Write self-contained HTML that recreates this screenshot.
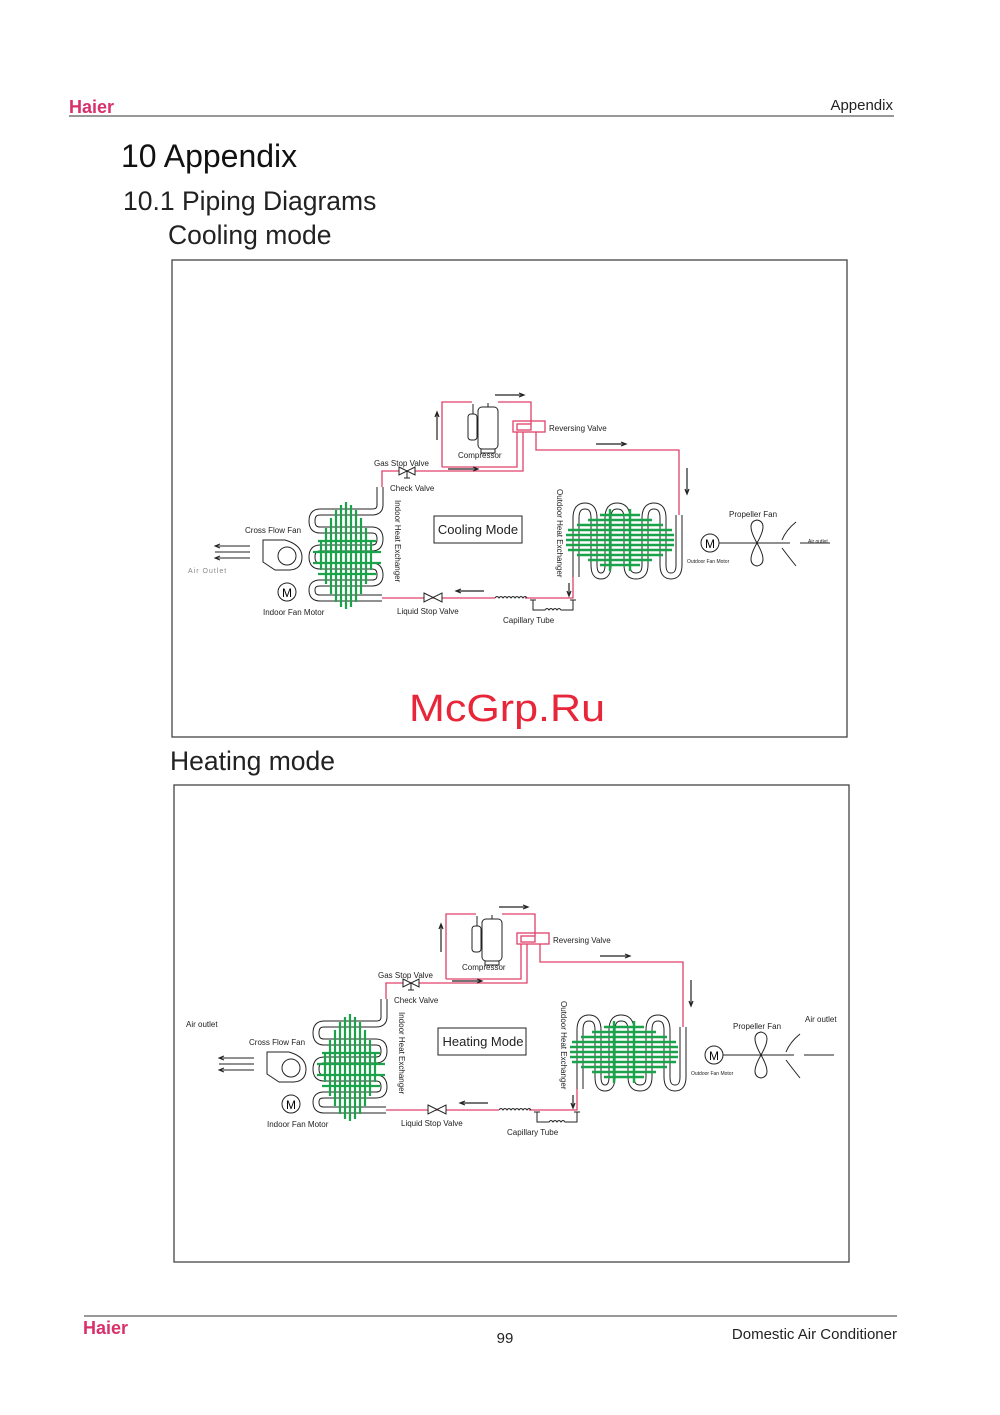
<!DOCTYPE html>
<html><head><meta charset="utf-8"><style>
html,body{margin:0;padding:0;background:#fff}
svg{display:block}
text{font-family:"Liberation Sans",sans-serif}
</style></head><body>
<svg width="1000" height="1415" viewBox="0 0 1000 1415" xmlns="http://www.w3.org/2000/svg">
<defs>
<g id="diag">
  <g fill="none" stroke="#e0406a" stroke-width="1.3">
    <path d="M442,467 V402 H472"/>
    <path d="M498,402 H531 V424"/>
    <path d="M442,467 H517 V432"/>
    <path d="M382,487 V471 H523 V432"/>
    <path d="M536,432 V450 H679 V515"/>
    <path d="M382,598 H495"/>
    <path d="M525,598 H573 V577"/>
    <rect x="513" y="421" width="32" height="11"/>
    <rect x="517" y="424" width="14" height="6"/>
  </g>
  <g fill="none" stroke="#222" stroke-width="1">
    <path d="M495,598 q2,-3 4,0 q2,-3 4,0 q2,-3 4,0 q2,-3 4,0 q2,-3 4,0 q2,-3 4,0 q2,-3 4,0 q2,-3 4,0"/>
    <path d="M533,600 V610 H545 q2,-3 4,0 q2,-3 4,0 q2,-3 4,0 q2,-3 4,0 H573 V600"/>
    <path d="M530,600 h6 M570,600 h6"/>
  </g>
  <g fill="#fff" stroke="#222" stroke-width="1">
    <rect x="478" y="407" width="20" height="42" rx="4"/>
    <rect x="468" y="414" width="9" height="26" rx="3"/>
    <rect x="481" y="449" width="14" height="4"/>
    <path d="M473,414 V404 M488,407 V403"/>
  </g>
  <g stroke="#222" stroke-width="1.2" fill="none">
    <path d="M495,395 H524 M519,393 L524,395 L519,397"/>
    <path d="M437,440 V412 M435,417 L437,412 L439,417"/>
    <path d="M448,469 H478 M473,467 L478,469 L473,471"/>
    <path d="M596,444 H626 M621,442 L626,444 L621,446"/>
    <path d="M687,468 V494 M685,489 L687,494 L689,489"/>
    <path d="M484,591 H456 M461,589 L456,591 L461,593"/>
    <path d="M569,583 V596 M567,591 L569,596 L571,591"/>
  </g>
  <g stroke="#222" stroke-width="1" fill="#fff">
    <path d="M399,467 L415,475 V467 L399,475 Z"/>
    <path d="M407,471 V478 M404,478 h6"/>
    <path d="M424,593 L442,602 V593 L424,602 Z"/>
  </g>
  <g fill="none" stroke="#222" stroke-width="7"><path id="ihx" d="M380,487 V505 Q380,512 372,512 H320 Q312,512 312,521 Q312,530 320,530 H372 Q380,530 380,539 Q380,548 372,548 H320 Q312,548 312,557 Q312,566 320,566 H372 Q380,566 380,575 Q380,583 372,583 H320 Q312,583 312,590 Q312,598 320,598 H382"/></g>
  <use href="#ihx" stroke="#fff" stroke-width="5" fill="none"/>
  <g stroke="#1aa34a" stroke-width="2.2">
    <path d="M331,518 V594 M336,510 V602 M341,505 V607 M346,502 V609 M351,505 V607 M356,510 V602 M361,518 V594 M326,528 V584 M366,528 V584 M321,540 V570 M371,540 V570"/>
    <path d="M318,541 H376 M313,552 H381 M313,563 H381 M318,574 H376"/>
  </g>
  <g fill="none" stroke="#222" stroke-width="7"><path id="ohx" d="M576,577 V518 Q576,506 585,506 Q594,506 594,518 V565 Q594,576 601,576 Q608,576 608,565 V518 Q608,506 617,506 Q627,506 627,518 V565 Q627,576 636,576 Q645,576 645,565 V518 Q645,506 654,506 Q663,506 663,518 V565 Q663,576 671,576 Q679,576 679,565 V515"/></g>
  <use href="#ohx" stroke="#fff" stroke-width="5" fill="none"/>
  <g stroke="#1aa34a" stroke-width="2.4">
    <path d="M600,515 H640 M588,520 H652 M577,525 H663 M568,530 H672 M566,535 H674 M566,540 H674 M566,545 H674 M568,550 H672 M577,555 H663 M588,560 H652 M600,565 H640"/>
    <path d="M610,509 V571 M630,509 V571"/>
  </g>
  <g fill="none" stroke="#222" stroke-width="1">
    <path d="M263,540 H285 Q302,545 302,557 Q302,569 290,570 H275 L263,562 Z"/>
    <circle cx="287" cy="556" r="9"/>
    <circle cx="287" cy="592" r="9"/>
    <path d="M215,546 H250 M215,552 H250 M215,558 H250 M220,544 L215,546 L220,548 M220,556 L215,558 L220,560"/>
  </g>
  <text x="287" y="597" font-size="12" text-anchor="middle" font-family="Liberation Serif">M</text>
  <g fill="none" stroke="#222" stroke-width="1">
    <circle cx="710" cy="543" r="9"/>
    <path d="M719,543 H790"/>
    <path d="M757,543 Q745,522 757,520 Q769,522 757,543 Q745,564 757,566 Q769,564 757,543"/>
    <path d="M796,522 Q786,530 782,540 M782,548 Q788,556 796,566 M800,543 H830"/>
  </g>
  <text x="710" y="548" font-size="12" text-anchor="middle" font-family="Liberation Serif">M</text>
  <rect x="434" y="516" width="88" height="27" fill="#fff" stroke="#222" stroke-width="1"/>
  <g font-size="8" fill="#222">
    <text x="549" y="431">Reversing Valve</text>
    <text x="458" y="458">Compressor</text>
    <text x="374" y="466">Gas Stop Valve</text>
    <text x="390" y="491">Check Valve</text>
    <text x="245" y="533">Cross Flow Fan</text>
    <text x="263" y="615">Indoor Fan Motor</text>
    <text x="397" y="614">Liquid Stop Valve</text>
    <text x="503" y="623">Capillary Tube</text>
    <text x="729" y="517">Propeller Fan</text>
    <text x="687" y="563" font-size="5">Outdoor Fan Motor</text>
    <text transform="translate(395,500) rotate(90)">Indoor Heat Exchanger</text>
    <text transform="translate(557,489) rotate(90)">Outdoor Heat Exchanger</text>
  </g>
</g>
</defs>

<text x="69" y="113" font-size="18" font-weight="bold" fill="#d8306a">Haier</text>
<text x="893" y="110" font-size="15" fill="#222" text-anchor="end">Appendix</text>
<line x1="69" y1="116" x2="894" y2="116" stroke="#777" stroke-width="1.5"/>
<text x="121" y="167" font-size="32" fill="#111">10 Appendix</text>
<text x="123" y="210" font-size="26.5" fill="#222">10.1 Piping Diagrams</text>
<text x="168" y="244" font-size="26.5" fill="#222">Cooling mode</text>

<rect x="172" y="260" width="675" height="477" fill="none" stroke="#444" stroke-width="1.3"/>
<use href="#diag"/>
<text x="478" y="534" font-size="13" text-anchor="middle" fill="#222">Cooling Mode</text>
<text x="188" y="573" font-size="7" fill="#888" font-family="Liberation Mono" letter-spacing="1">Air Outlet</text>
<text x="808" y="543" font-size="5" fill="#222">Air outlet</text>
<text x="507" y="721" font-size="38" fill="#e8263a" text-anchor="middle" font-family="Liberation Serif, serif" textLength="196" lengthAdjust="spacingAndGlyphs">McGrp.Ru</text>

<text x="170" y="770" font-size="26.5" fill="#222">Heating mode</text>
<rect x="174" y="785" width="675" height="477" fill="none" stroke="#444" stroke-width="1.3"/>
<g transform="translate(4,512)"><use href="#diag"/></g>
<text x="483" y="1046" font-size="13" text-anchor="middle" fill="#222">Heating Mode</text>
<text x="186" y="1027" font-size="8" fill="#222">Air outlet</text>
<text x="805" y="1022" font-size="8" fill="#222">Air outlet</text>

<line x1="84" y1="1316" x2="897" y2="1316" stroke="#777" stroke-width="1.5"/>
<text x="83" y="1334" font-size="18" font-weight="bold" fill="#d8306a">Haier</text>
<text x="505" y="1343" font-size="15" fill="#222" text-anchor="middle">99</text>
<text x="897" y="1339" font-size="15" fill="#222" text-anchor="end">Domestic Air Conditioner</text>
</svg>
</body></html>
